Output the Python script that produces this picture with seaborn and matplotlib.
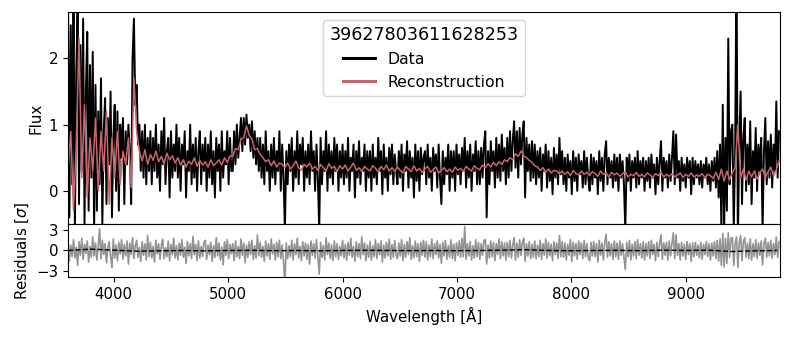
import numpy as np
import matplotlib
matplotlib.use("Agg")
import matplotlib.pyplot as plt
import seaborn as sns

# ---------------- data ----------------
TARGET_ID = "39627803611628253"
WAVE_START, WAVE_STEP = 3600, 12          # data / residual sampling [Angstrom]
RECON_STEP = 24                           # reconstruction sampling
SMOOTH_STEP = 200                         # smoothed residual sampling

FLUX = [
    2.9, -0.4, 2.5, 0.1, 3.0, -0.6, 1.8, 2.8, -0.2, 2.2, 0.3, 2.6, -0.5, 1.5, 2.4, -0.3, 1.9, 0.2, 2.1, -0.6,
    1.6, -0.3, 1.2, 0.1, 1.7, -0.5, 0.9, 1.4, -0.2, 1.1, 0.4, 1.5, -0.4, 0.8, 1.3, 0.0, 1.2, -0.3, 1.0, 0.5,
    1.1, -0.2, 0.9, 0.4, 1.0, 0.6, -0.2, 2.0, 2.6, 1.3, 1.6, 0.7, 1.0, 0.3, 0.9, 0.2, 1.0, 0.1, 0.8, 0.3,
    0.9, 0.1, 0.8, 0.3, 1.0, 0.2, 0.7, 0.0, 0.9, 0.4, 1.1, 0.1, 0.6, 0.8, -0.1, 0.9, 0.2, 0.7, 0.3, 1.0,
    0.2, 0.8, 0.0, 0.7, 0.4, 0.9, -0.1, 0.6, 0.3, 1.0, 0.1, 0.7, 0.2, 0.8, 0.0, 0.6, 0.9, 0.1, 0.7, 0.3,
    0.8, 0.0, 0.7, 0.2, 0.9, 0.1, 0.6, -0.1, 0.8, 0.3, 0.7, 0.0, 0.9, 0.2, 0.6, 0.4, 0.9, 0.1, 0.8, 0.3,
    0.3, 0.9, 0.4, 1.0, 0.5, 0.8, 1.1, 0.6, 1.1, 0.7, 1.15, 0.8, 1.0, 0.6, 1.05, 0.5, 0.9, 0.4, 0.8, 0.3,
    0.8, 0.2, 0.7, 0.1, 0.9, 0.3, 0.6, 0.0, 0.7, 0.2, 0.8, 0.1, 0.6, 0.3, 0.9, 0.0, 0.7, 0.2, -0.6, 0.6,
    0.1, 0.7, 0.3, 0.8, 0.0, 0.6, 0.2, 0.9, 0.1, 0.7, 0.4, 0.8, 0.0, 0.6, 0.2, 0.7, 0.1, 0.9, 0.3, 0.6,
    0.0, 0.7, 0.2, -0.6, 0.8, 0.1, 0.6, 0.3, 0.9, 0.0, 0.7, 0.2, 0.6, 0.1, 0.8, 0.3, 0.7, 0.0, 0.6, 0.2,
    0.7, 0.1, 0.6, 0.2, 0.8, 0.0, 0.5, 0.3, 0.7, -0.1, 0.6, 0.2, 0.75, 0.1, 0.5, 0.3, 0.7, 0.0, 0.6, 0.2,
    0.6, 0.0, 0.7, 0.2, 0.5, 0.1, 0.8, 0.3, 0.6, -0.05, 0.7, 0.2, 0.5, 0.0, 0.65, 0.25, 0.7, 0.1, 0.55, 0.3,
    0.1, 0.6, 0.2, 0.7, 0.0, 0.55, 0.3, 0.75, 0.05, 0.6, 0.2, 0.5, -0.1, 0.7, 0.15, 0.6, 0.0, 0.65, 0.25, 0.5,
    0.6, 0.1, 0.7, 0.2, 0.5, 0.0, 0.65, 0.3, 0.55, 0.05, 0.7, 0.2, -0.2, 0.6, 0.1, 0.5, 0.25, 0.7, 0.0, 0.6,
    0.2, 0.6, 0.0, 0.7, 0.25, 0.55, 0.1, 0.65, 0.3, 0.8, 0.05, 0.6, 0.2, 0.7, 0.0, 0.55, 0.3, 0.75, 0.1, 0.6,
    0.1, 0.65, 0.2, 0.7, 0.9, -0.4, 0.6, 0.1, 0.75, 0.3, 0.6, 0.05, 0.8, 0.2, 0.7, 0.15, 0.85, 0.3, 0.65, 0.1,
    0.8, 0.2, 0.9, 0.3, 0.75, 1.05, 0.35, 0.9, 0.2, 0.95, 0.4, 0.85, 1.05, -0.1, 0.8, 0.3, 0.7, 0.15, 0.75, 0.2,
    0.7, 0.1, 0.6, 0.2, 0.65, 0.0, 0.55, 0.3, 0.7, 0.05, 0.6, 0.15, 0.5, -0.05, 0.65, 0.2, 0.55, 0.1, 0.8, 0.25,
    0.6, 0.1, 0.5, 0.0, 0.55, 0.2, 0.45, -0.05, 0.6, 0.15, 0.5, 0.0, 0.55, 0.25, 0.45, 0.05, 0.6, 0.1, 0.5, 0.2,
    0.0, 0.55, 0.1, 0.5, 0.2, 0.45, -0.05, 0.6, 0.15, 0.5, 0.0, 0.55, 0.75, 0.1, 0.5, 0.2, 0.45, 0.05, 0.55, 0.15,
    0.5, 0.0, 0.55, 0.2, 0.45, 0.1, -0.6, 0.5, 0.15, 0.55, 0.0, 0.45, 0.2, 0.5, 0.05, 0.6, 0.1, 0.45, 0.2, 0.5,
    0.0, 0.45, 0.15, 0.5, 0.05, 0.55, 0.2, 0.4, -0.05, 0.5, 0.1, 0.45, 0.75, 0.0, 0.5, 0.2, 0.45, 0.05, 0.55, 0.15,
    0.5, 0.9, 0.1, 0.85, 0.2, 0.45, 0.0, 0.5, 0.15, 0.4, 0.05, 0.5, 0.2, 0.45, -0.05, 0.5, 0.1, 0.45, 0.2, 0.4,
    0.1, 0.45, 0.05, 0.4, 0.2, 0.5, 0.1, 0.4, 0.0, 0.45, 0.15, 0.5, 0.05, 0.6, -0.1, 0.7, -0.6, 1.3, -0.6, 0.8,
    -0.3, 2.3, 0.1, 0.9, 1.0, -0.6, 0.6, 3.5, -0.8, 0.7, 1.5, -0.2, 0.8, 1.1, 0.0, 0.7, 0.1, 1.05, -0.2, 0.6,
    0.2, 0.95, 0.0, 0.7, 0.3, 0.8, -0.6, 0.6, 1.1, 0.1, 0.75, 0.2, 0.85, 0.05, 0.7, 0.3, 1.35, 0.2, 0.9,
]

RECON = [
    0.3, 0.9, -0.3, 0.7, 2.3, 0.2, 1.3, -0.1, 0.8, 0.3,
    1.1, 0.0, 0.9, 0.3, 1.2, -0.2, 0.8, 0.2, 0.9, 0.1,
    0.6, 0.4, 0.8, 0.05, 1.7, 0.9, 0.6, 0.45, 0.62, 0.4,
    0.55, 0.46, 0.6, 0.44, 0.52, 0.41, 0.57, 0.47, 0.53, 0.42,
    0.5, 0.39, 0.47, 0.36, 0.45, 0.4, 0.5, 0.37, 0.46, 0.39,
    0.44, 0.36, 0.47, 0.38, 0.42, 0.47, 0.39, 0.5, 0.43, 0.53,
    0.52, 0.64, 0.62, 0.78, 0.8, 0.98, 0.84, 0.78, 0.62, 0.64,
    0.55, 0.5, 0.44, 0.47, 0.38, 0.45, 0.36, 0.42, 0.4, 0.35,
    0.42, 0.33, 0.38, 0.45, 0.35, 0.31, 0.4, 0.36, 0.42, 0.33,
    0.37, 0.31, 0.4, 0.35, 0.3, 0.41, 0.34, 0.37, 0.29, 0.38,
    0.33, 0.39, 0.3, 0.36, 0.42, 0.31, 0.35, 0.29, 0.37, 0.33,
    0.3, 0.38, 0.34, 0.28, 0.37, 0.32, 0.39, 0.3, 0.35, 0.29,
    0.36, 0.31, 0.27, 0.37, 0.33, 0.29, 0.38, 0.3, 0.34, 0.28,
    0.33, 0.37, 0.28, 0.32, 0.36, 0.27, 0.31, 0.35, 0.29, 0.33,
    0.28, 0.36, 0.31, 0.34, 0.29, 0.37, 0.33, 0.3, 0.38, 0.34,
    0.32, 0.39, 0.35, 0.41, 0.36, 0.43, 0.38, 0.44, 0.4, 0.47,
    0.44, 0.5, 0.47, 0.56, 0.52, 0.6, 0.53, 0.5, 0.46, 0.43,
    0.38, 0.36, 0.31, 0.35, 0.28, 0.33, 0.27, 0.31, 0.3, 0.26,
    0.3, 0.25, 0.29, 0.23, 0.31, 0.26, 0.24, 0.3, 0.25, 0.28,
    0.23, 0.29, 0.26, 0.22, 0.3, 0.25, 0.27, 0.21, 0.28, 0.24,
    0.27, 0.22, 0.26, 0.29, 0.21, 0.25, 0.23, 0.28, 0.22, 0.25,
    0.21, 0.27, 0.24, 0.2, 0.26, 0.23, 0.28, 0.21, 0.25, 0.22,
    0.26, 0.21, 0.24, 0.27, 0.2, 0.25, 0.22, 0.27, 0.21, 0.24,
    0.22, 0.26, 0.2, 0.25, 0.23, 0.19, 0.28, 0.17, 0.33, 0.15,
    0.3, 0.17, 0.28, 0.35, 1.0, 0.2, 0.33, 0.16, 0.3, 0.21,
    0.3, 0.18, 0.27, 0.33, 0.2, 0.29, 0.36, 0.22, 0.32, 0.45,
]

RESID = [
    1.2, -1.5, 0.8, -0.9, 1.6, -1.1, 0.5, -2.2, 1.3, -0.7, 1.8, -1.3, 0.9, -0.4, 1.4, -1.7, 0.6, -1.0, 2.0, -0.8,
    1.1, -1.4, 0.7, 3.2, -1.2, 1.5, -0.6, 1.0, -1.8, 0.4, 1.3, -0.9, -2.5, 1.7, -1.1, 0.8, -1.5, 1.2, -0.5, 1.6,
    -1.3, 0.9, -0.8, 1.4, -2.0, 1.1, -0.6, 1.9, -1.2, 0.7, 1.5, -1.0, 0.5, -1.6, 1.3, -0.7, 1.0, -1.4, 2.2, -0.9,
    1.2, -1.1, 0.6, -1.7, 1.5, -0.5, 1.0, -1.3, 0.8, 1.7, -1.2, 0.4, -0.9, 1.4, -1.5, 0.9, -0.6, 1.8, -1.1, 0.7,
    -1.4, 1.1, -0.7, 1.6, -1.0, 0.5, -1.9, 1.3, -0.8, 1.0, -1.2, 2.1, -0.6, 0.9, -1.5, 1.4, -1.1, 0.6, -0.9, 1.2,
    1.5, -1.3, 0.8, -0.6, 1.2, -1.6, 0.7, -1.0, 1.9, -0.8, 1.1, -1.4, 0.5, -2.1, 1.3, -0.7, 1.6, -1.2, 0.9, -0.5,
    1.0, -1.5, 1.4, -0.9, 0.6, -1.2, 1.7, -0.7, 1.1, -1.8, 0.8, -1.0, 1.3, -0.6, 1.5, -1.3, 0.7, -1.1, 2.3, -0.8,
    1.2, -1.0, 0.6, -1.6, 1.4, -0.8, 1.0, -1.3, 1.7, -0.5, 0.9, -1.4, 1.2, -0.9, 1.5, -1.2, 0.8, -1.7, -5.0, 1.1,
    -1.2, 0.7, -0.9, 1.5, -1.4, 1.0, -0.6, 1.8, -1.1, 0.6, -1.5, 1.3, -0.8, 1.1, -1.3, 0.9, -2.0, 1.4, -0.7, 1.0,
    -1.1, 1.6, -0.8, -3.5, 1.2, -1.0, 0.7, -1.4, 1.9, -0.6, 1.1, -1.2, 0.8, -1.5, 1.4, -0.9, 1.0, -1.3, 0.6, -0.8,
    1.5, -1.1, 0.9, -1.4, 1.2, -0.7, 1.8, -1.0, 0.6, -1.6, 1.3, -0.9, 1.0, -1.2, 2.0, -0.6, 1.1, -1.5, 0.8, -1.0,
    1.3, -1.4, 0.7, -0.9, 1.6, -1.2, 1.0, -0.6, 1.4, -1.7, 0.8, -1.1, 1.2, -0.8, 1.7, -1.3, 0.9, -1.0, 1.5, -0.7,
    -1.2, 1.1, -0.8, 1.6, -1.5, 0.9, -1.0, 1.3, -0.6, 1.9, -1.3, 0.7, -1.1, 1.4, -0.9, 1.0, -1.6, 1.2, -0.7, 1.5,
    -1.0, 1.3, -1.4, 0.8, -0.9, 1.7, -1.2, 1.0, -0.6, 1.4, -1.1, 0.9, -1.9, 1.2, -0.8, 1.5, -1.3, 0.7, -1.0, 1.6,
    -1.2, 0.9, -1.5, 1.1, -0.7, 1.4, -1.0, 1.8, -0.9, 3.5, -1.3, 1.0, -0.8, 1.3, -1.4, 0.7, -1.1, 1.6, -0.9, 1.2,
    -1.3, 1.0, -0.7, 1.5, 1.6, -2.0, 0.8, -1.1, 1.4, -0.9, 1.2, -1.5, 1.0, -0.6, 1.7, -1.2, 1.3, -0.8, 1.1, -1.4,
    1.2, -0.9, 1.5, -1.1, 0.8, 1.9, -1.4, 1.1, -1.0, 1.6, -0.7, 1.2, 1.8, -1.6, 1.0, -0.8, 1.3, -1.2, 0.9, -1.0,
    1.4, -1.2, 0.8, -0.9, 1.5, -1.3, 1.0, -0.7, 1.7, -1.1, 1.2, -0.8, 0.9, -1.5, 1.3, -0.6, 1.1, -1.2, 2.2, -0.9,
    1.3, -1.0, 1.1, -1.4, 0.9, -0.7, 1.6, -1.6, 1.2, -0.8, 1.0, -1.3, 1.4, -0.6, 1.1, -1.2, 1.5, -0.9, 1.0, -1.1,
    -1.5, 1.2, -0.8, 1.3, -0.9, 1.0, -1.7, 1.5, -0.7, 1.1, -1.4, 1.2, 2.4, -1.0, 1.3, -0.8, 1.0, -1.3, 1.4, -0.9,
    1.1, -1.3, 1.4, -0.7, 1.0, -1.0, -2.8, 1.2, -0.9, 1.5, -1.4, 0.9, -0.8, 1.3, -1.2, 1.6, -0.7, 1.0, -1.1, 1.3,
    -1.4, 1.0, -0.8, 1.3, -1.2, 1.5, -0.6, 0.9, -1.5, 1.2, -0.9, 1.0, 2.3, -1.3, 1.1, -0.7, 1.2, -1.4, 1.4, -0.8,
    1.1, 2.6, -1.2, 2.3, -0.7, 1.0, -1.4, 1.2, -0.8, 0.9, -1.3, 1.3, -0.6, 1.0, -1.6, 1.1, -0.9, 1.2, -0.7, 0.8,
    -1.1, 1.2, -1.3, 0.9, -0.6, 1.3, -0.9, 1.0, -1.4, 1.1, -0.8, 1.3, -1.2, 1.5, -1.6, 1.7, -2.2, 2.5, -2.4, 1.8,
    -1.9, 2.6, -1.0, 1.8, 1.9, -2.2, 1.0, 2.0, -2.5, 1.2, 2.2, -1.5, 1.3, 1.9, -1.0, 1.1, -1.2, 1.7, -1.4, 1.0,
    -0.9, 1.6, -1.2, 1.1, -0.7, 1.4, -2.1, 1.0, 1.8, -1.0, 1.2, -0.8, 1.5, -1.1, 1.0, -0.6, 2.0, -1.0, 1.3,
]

RESID_SMOOTH = [
    0.0, 0.2, 0.05, -0.1, -0.05, 0.0, -0.05, 0.0, 0.02, -0.03, 0.0, -0.05, 0.0, 0.03, 0.0, -0.02,
    0.0, -0.03, 0.0, 0.05, 0.12, 0.0, -0.03, 0.0, 0.02, -0.02, 0.05, 0.0, 0.05, -0.15, -0.05, 0.0,
]

assert len(FLUX) == len(RESID)

wave = WAVE_START + WAVE_STEP * np.arange(len(FLUX))
wave_rec = WAVE_START + RECON_STEP * np.arange(len(RECON))
wave_smooth = WAVE_START + SMOOTH_STEP * np.arange(len(RESID_SMOOTH))

# ---------------- figure ----------------
plt.rcParams["font.family"] = ["DejaVu Sans"]
plt.rcParams["font.size"] = 10.8

fig, (ax, axr) = plt.subplots(
    2, 1, figsize=(7.92, 3.40), dpi=100, sharex=True,
    gridspec_kw={"height_ratios": [4, 1]},
)
fig.subplots_adjust(left=0.0859, right=0.9848, top=0.9647, bottom=0.1853, hspace=0)

RECON_COLOR = "#C8646C"

sns.lineplot(x=wave, y=FLUX, ax=ax, color="black", lw=1.4,
             estimator=None, sort=False, label="Data")
sns.lineplot(x=wave_rec, y=RECON, ax=ax, color=RECON_COLOR, lw=1.1,
             estimator=None, sort=False, label="Reconstruction")

ax.set_ylim(-0.5, 2.7)
ax.set_yticks([0, 1, 2])
ax.set_ylabel("Flux")
ax.tick_params(axis="x", bottom=False, labelbottom=False)

leg = ax.legend(title=TARGET_ID, loc="upper center", fontsize=11.3,
                title_fontsize=12.6)
for line in leg.get_lines():
    line.set_linewidth(2.2)
    line.set_alpha(1.0)

sns.lineplot(x=wave, y=RESID, ax=axr, color="grey", alpha=0.85, lw=1.2,
             estimator=None, sort=False)
sns.lineplot(x=wave_smooth, y=RESID_SMOOTH, ax=axr, color="black", lw=1.0,
             linestyle="--", estimator=None, sort=False)

axr.set_ylim(-3.9, 3.9)
axr.set_yticks([-3, 0, 3])
axr.set_ylabel(r"Residuals [$\sigma$]")
axr.set_xlim(3600, 9824)
axr.set_xticks([4000, 5000, 6000, 7000, 8000, 9000])
axr.set_xlabel("Wavelength [Å]")

fig.savefig("out.png", dpi=100)
